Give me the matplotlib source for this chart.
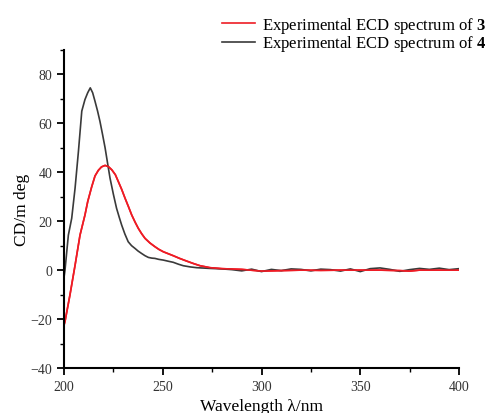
import matplotlib
matplotlib.use("Agg")
import matplotlib.pyplot as plt
from matplotlib.ticker import MultipleLocator

plt.rcParams['font.family'] = ['Liberation Serif', 'DejaVu Serif']
plt.rcParams['mathtext.fontset'] = 'custom'
plt.rcParams['mathtext.rm'] = 'Liberation Serif'
plt.rcParams['mathtext.bf'] = 'Liberation Serif:bold'

# compound 3 (red)
wl3 = [200, 200.5, 203, 205.6, 208.1, 210.6, 212, 214, 215.7, 217.4, 219, 220.8, 222.5,
       224.2, 226, 227.5, 229.2, 230.9, 232.6, 234.3, 236, 237.6, 239.3, 241, 243.5,
       246, 248, 250.3, 255.3, 258.5, 262.1, 265.5, 268.9, 273.9, 280, 290, 300, 310,
       320, 330, 340, 350, 360, 370, 375, 380, 390, 400]
cd3 = [-22.5, -21, -10.2, 2, 14.3, 22.5, 28, 34, 38.5, 40.8, 42.2, 42.8, 42.3,
       41, 39, 36.2, 33, 29.4, 26, 22.5, 19.6, 17.1, 14.9, 13, 11.1,
       9.6, 8.5, 7.5, 5.9, 4.8, 3.7, 2.7, 1.8, 1.0, 0.6, 0.3, -0.4, -0.2,
       0, -0.1, 0, 0, 0, -0.2, -0.4, 0, 0, 0]

# compound 4 (black)
wl4 = [200, 200.5, 202.2, 203.9, 205.6, 207.3, 209, 210.6, 212, 213.3, 214.5, 215.7,
       217, 218.2, 219.5, 220.8, 222, 223.3, 225, 226.6, 228, 229.2, 230.8, 232.5,
       234.2, 235.9, 237.5, 239.3, 241, 242.7, 244.5, 246, 248, 250.3, 253, 255.3,
       258, 260.4, 264, 267.2, 273.9, 280, 285, 290, 295, 300, 305, 310, 315, 320,
       325, 330, 335, 340, 345, 350, 355, 360, 365, 370, 375, 380, 385, 390, 395, 400]
cd4 = [-3, 0, 14.3, 21.2, 33.5, 48.5, 65, 69.7, 72.5, 74.5, 72.5, 69,
       65, 60.8, 55.5, 50, 44, 37.6, 31, 25.3, 21.5, 18.4, 14.8, 11.6,
       10, 8.9, 7.8, 6.8, 5.9, 5.2, 4.9, 4.8, 4.4, 4.1, 3.6, 3.2,
       2.4, 1.8, 1.3, 1.0, 0.7, 0.5, 0.2, -0.3, 0.4, -0.6, 0.3, -0.2, 0.5, 0.3,
       -0.3, 0.4, 0.2, -0.4, 0.5, -0.6, 0.6, 0.9, 0.3, -0.5, 0.2, 0.7, 0.3, 0.8, 0.2, 0.6]

fig = plt.figure(figsize=(4.86, 4.14), dpi=100)
ax = fig.add_axes([0.1317, 0.1087, 0.8128, 0.7683])

ax.plot(wl3, cd3, color='#ee1c25', lw=1.2, label='Experimental ECD spectrum of $\\mathbf{3}$')
ax.plot(wl4, cd4, color='#3a3a3a', lw=1.2, label='Experimental ECD spectrum of $\\mathbf{4}$')
# redraw red on top like the original
ax.plot(wl3, cd3, color='#ee1c25', lw=1.2)

ax.set_xlim(200, 400)
ax.set_ylim(-40, 90)
ax.xaxis.set_major_locator(MultipleLocator(50))
ax.xaxis.set_minor_locator(MultipleLocator(25))
ax.yaxis.set_minor_locator(MultipleLocator(10))
ax.set_yticks([-40, -20, 0, 20, 40, 60, 80])

for s in ['top', 'right']:
    ax.spines[s].set_visible(False)
for s in ['left', 'bottom']:
    ax.spines[s].set_linewidth(1.5)
ax.tick_params(which='major', direction='out', length=5, width=1.3, labelsize=10, labelcolor='#333333')
ax.tick_params(which='minor', direction='out', length=3, width=1.0)

ax.set_xlabel('Wavelength λ/nm', fontsize=12.5)
ax.set_ylabel('CD/m deg', fontsize=12.5, labelpad=0)

fig.legend(loc='upper left', bbox_to_anchor=(222 / 486, 0.961), frameon=False, fontsize=12,
           handlelength=2.0, handletextpad=0.42, labelspacing=-0.1, borderpad=0, borderaxespad=0)

fig.savefig('out.png', dpi=100)
